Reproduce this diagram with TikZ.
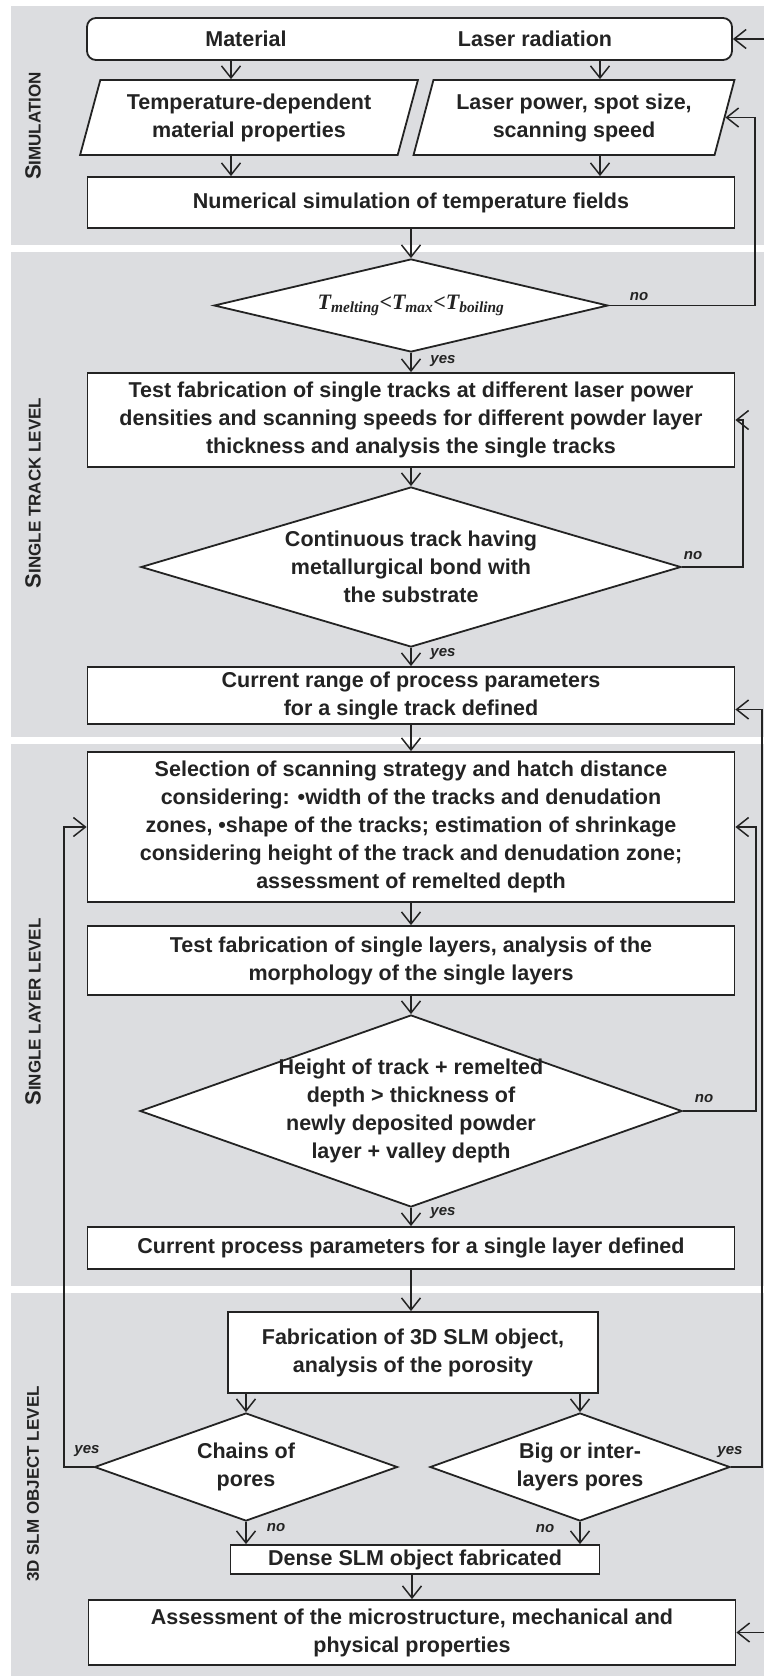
\documentclass[tikz,border=0pt]{standalone}
\usepackage{fontspec}
\setmainfont{Liberation Sans}
\newfontfamily\serifit{Liberation Serif}
\usetikzlibrary{arrows.meta,positioning,shapes.geometric}
\definecolor{secgray}{RGB}{220,221,224}
\definecolor{inkline}{RGB}{35,35,35}
\newcommand{\capfirst}[1]{{\fontsize{22}{22}\selectfont #1}}

\begin{document}
\begin{tikzpicture}[x=1pt, y=-1pt,
    txt/.style={align=center, text=inkline, font=\bfseries\fontsize{21.5}{28}\selectfont},
    box/.style={txt, draw=inkline, line width=1.8pt, fill=white, inner sep=2pt, minimum width=647pt},
    para/.style={box, trapezium, trapezium left angle=72, trapezium right angle=108,
        trapezium stretches=true, minimum height=75pt},
    decide/.style={diamond, draw=inkline, line width=1.8pt, fill=white, inner sep=0pt},
    yn/.style={inner sep=0pt, text=inkline, font=\bfseries\itshape\fontsize{15}{15}\selectfont},
    sectlabel/.style={rotate=90, text=inkline, font=\bfseries\fontsize{17}{17}\selectfont},
    flow/.style={draw=inkline, line width=1.5pt, -{Straight Barb[length=12pt,width=19pt]}}
]
\useasboundingbox (0,0) rectangle (764,1676);
\fill[secgray] (11,6) rectangle (764,245);
\fill[secgray] (11,252) rectangle (764,737);
\fill[secgray] (11,744) rectangle (764,1286);
\fill[secgray] (11,1293) rectangle (764,1676);

\node[sectlabel] (simlab) at (33,126) {\capfirst{S}IMULATION};
\node[sectlabel] (tracklab) at (33,493) {\capfirst{S}INGLE TRACK LEVEL};
\node[sectlabel] (layerlab) at (33,1012) {\capfirst{S}INGLE LAYER LEVEL};
\node[sectlabel] (objlab) at (33,1484) {3D SLM OBJECT LEVEL};

\node[box, rounded corners=9pt, minimum width=645pt, minimum height=42pt] (src) at (409.5,39) {};
\node[txt] (mat) at (246,39) {Material};
\node[txt] (laser) at (535,39) {Laser radiation};
\node[para, minimum width=338pt] (matprop) at (249,117.5) {Temperature-dependent\\material properties};
\node[para, minimum width=322pt] (laserpar) at (574,117.5) {Laser power, spot size,\\scanning speed};
\node[box, minimum height=51pt] (numsim) at (411,202.5) {Numerical simulation of temperature fields};
\node[decide, minimum width=394pt, minimum height=93pt,
    label={[txt]center:{\serifit\itshape\fontsize{22}{22}\selectfont T\textsubscript{melting}<T\textsubscript{max}<T\textsubscript{boiling}}}] (tcheck) at (411,305.5) {};
\node[box, minimum height=94pt] (tracks) at (411,420) {Test fabrication of single tracks at different laser power\\densities and scanning speeds for different powder layer\\thickness and analysis the single tracks};
\node[decide, minimum width=540pt, minimum height=160pt,
    label={[txt]center:Continuous track having\\metallurgical bond with\\the substrate}] (bond) at (411,567) {};
\node[box, minimum height=57pt] (trackset) at (411,695.5) {Current range of process parameters\\for a single track defined};
\node[box, minimum height=150pt] (strategy) at (411,827) {Selection of scanning strategy and hatch distance\\considering: \textbullet width of the tracks and denudation\\zones, \textbullet shape of the tracks; estimation of shrinkage\\considering height of the track and denudation zone;\\assessment of remelted depth};
\node[box, minimum height=69pt] (layers) at (411,960.5) {Test fabrication of single layers, analysis of the\\morphology of the single layers};
\node[decide, minimum width=542pt, minimum height=192pt,
    label={[txt]center:Height of track + remelted\\depth > thickness of\\newly deposited powder\\layer + valley depth}] (depth) at (411,1111) {};
\node[box, minimum height=42pt] (layerset) at (411,1248) {Current process parameters for a single layer defined};
\node[box, minimum width=370pt, minimum height=81pt] (object) at (413,1352.5) {Fabrication of 3D SLM object,\\analysis of the porosity};
\node[decide, minimum width=303pt, minimum height=108pt,
    label={[txt]center:Chains of\\pores}] (chains) at (246,1467) {};
\node[decide, minimum width=300pt, minimum height=108pt,
    label={[txt]center:Big or inter-\\layers pores}] (bigpores) at (580,1467) {};
\node[box, minimum width=369pt, minimum height=29pt] (dense) at (415,1559.5) {Dense SLM object fabricated};
\node[box, minimum height=65pt] (assess) at (412,1632.5) {Assessment of the microstructure, mechanical and\\physical properties};

\node[yn] (no1) at (639,297) {no};
\node[yn] (yes1) at (443,361) {yes};
\node[yn] (no2) at (693,556) {no};
\node[yn] (yes2) at (443,654) {yes};
\node[yn] (no3) at (704,1099) {no};
\node[yn] (yes3) at (443,1213) {yes};
\node[yn] (yes4) at (87,1451) {yes};
\node[yn] (no4) at (276,1528) {no};
\node[yn] (yes5) at (730,1452) {yes};
\node[yn] (no5) at (545,1529) {no};

\coordinate (colA) at (231,0);
\coordinate (colB) at (600,0);
\coordinate (railA) at (755,0);
\coordinate (railB) at (743,0);
\coordinate (railC) at (756,0);
\coordinate (railD) at (762,0);
\coordinate (railL) at (64,0);
\coordinate (feedin) at (764,39);
\coordinate (feedout) at (764,1632.5);

\draw[flow] (feedin) -- (src.east);
\draw[flow] (src.south -| colA) -- (matprop.north -| colA);
\draw[flow] (src.south -| colB) -- (laserpar.north -| colB);
\draw[flow] (matprop.south -| colA) -- (numsim.north -| colA);
\draw[flow] (laserpar.south -| colB) -- (numsim.north -| colB);
\draw[flow] (numsim) -- (tcheck);
\draw[flow] (tcheck) -- (tracks);
\draw[flow] (tracks) -- (bond);
\draw[flow] (bond) -- (trackset);
\draw[flow] (trackset) -- (strategy);
\draw[flow] (strategy) -- (layers);
\draw[flow] (layers) -- (depth);
\draw[flow] (depth) -- (layerset);
\draw[flow] (layerset.south) -- (object.north -| layerset.south);
\draw[flow] (object.south -| chains) -- (chains.north);
\draw[flow] (object.south -| bigpores) -- (bigpores.north);
\draw[flow] (chains.south) -- (dense.north -| chains);
\draw[flow] (bigpores.south) -- (dense.north -| bigpores);
\draw[flow] (dense.south -| assess.north) -- (assess.north);
\draw[flow] (feedout) -- (assess.east);

\draw[flow] (tcheck.east) -- (tcheck.east -| railA) |- (laserpar.east);
\draw[flow] (bond.east) -- (bond.east -| railB) |- (tracks.east);
\draw[flow] (depth.east) -- (depth.east -| railC) |- (strategy.east);
\draw[flow] (bigpores.east) -- (bigpores.east -| railD) |- ([yshift=-14pt]trackset.east);
\draw[flow] (chains.west) -- (chains.west -| railL) |- (strategy.west);
\end{tikzpicture}
\end{document}
